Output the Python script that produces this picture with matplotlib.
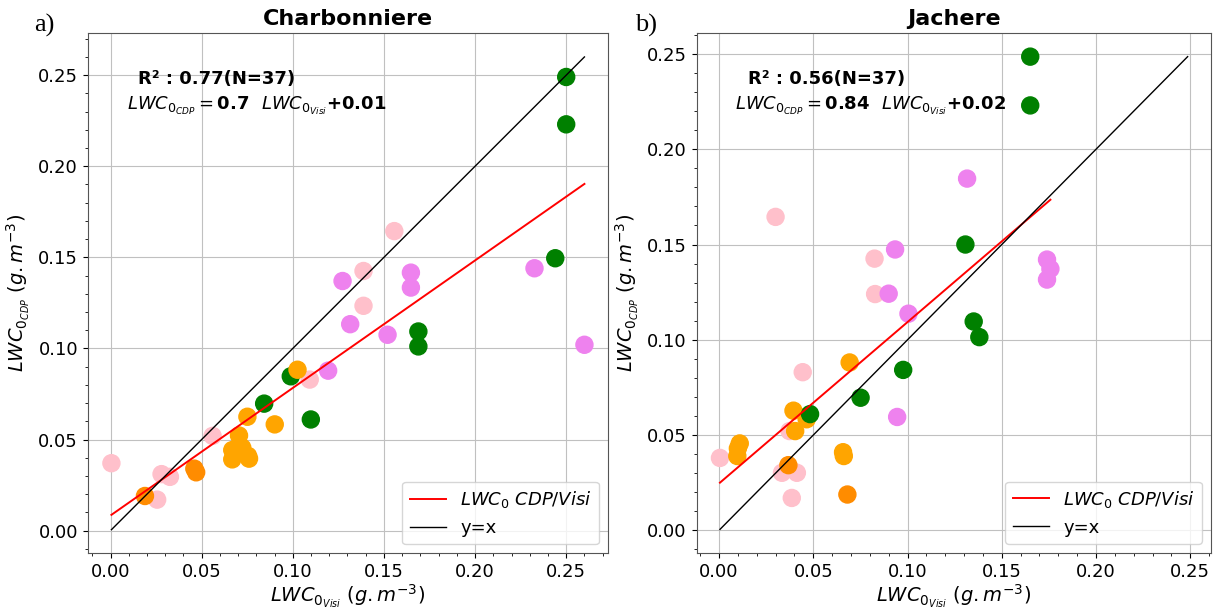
import numpy as np
import matplotlib.pyplot as plt

# a) Charbonniere : LWC0 Visi (x) vs LWC0 CDP (y)
charb_x = [0.0005, 0.028, 0.0326, 0.0256, 0.056, 0.1557, 0.1388, 0.1388, 0.1093,
           0.1273, 0.1648, 0.1648, 0.1315, 0.152, 0.2326, 0.260, 0.1194,
           0.0843, 0.0989, 0.1689, 0.1689, 0.244, 0.1099, 0.250, 0.250,
           0.0751, 0.0901, 0.0705, 0.0668, 0.0723, 0.0668, 0.076, 0.0755, 0.1026,
           0.0189, 0.046, 0.047]
charb_y = [0.037, 0.031, 0.0295, 0.017, 0.052, 0.1644, 0.1425, 0.1234, 0.0829,
           0.137, 0.1416, 0.1334, 0.1133, 0.1075, 0.144, 0.102, 0.0878,
           0.0697, 0.0847, 0.1093, 0.1011, 0.1495, 0.061, 0.249, 0.223,
           0.0625, 0.0583, 0.0522, 0.0442, 0.0455, 0.0391, 0.0395, 0.041, 0.0883,
           0.019, 0.034, 0.032]
charb_col = (['pink'] * 9 + ['violet'] * 8 + ['green'] * 8 + ['orange'] * 9
             + ['darkorange'] * 3)
charb_fit = [0.70, 0.0083]   # pente, ordonnee
charb_txt = ['R² : 0.77(N=37)', r'$LWC_{0_{CDP}}=\bf{0.7}$  $LWC_{0_{Visi}}$+0.01']

# b) Jachere
jach_x = [0.0005, 0.0444, 0.0374, 0.0334, 0.0413, 0.0386, 0.0825, 0.0828, 0.030,
          0.011, 0.0097, 0.010, 0.0693, 0.0395, 0.0465, 0.047, 0.0404, 0.0658, 0.0662,
          0.0368, 0.0681,
          0.0483, 0.0751, 0.0977, 0.1307, 0.1351, 0.1381, 0.1651, 0.1651,
          0.0945, 0.1316, 0.0934, 0.090, 0.1005, 0.174, 0.1758, 0.174]
jach_y = [0.038, 0.083, 0.0521, 0.0302, 0.0302, 0.017, 0.1426, 0.124, 0.1645,
          0.0456, 0.039, 0.043, 0.0881, 0.0628, 0.0583, 0.060, 0.0521, 0.041, 0.039,
          0.0342, 0.0188,
          0.061, 0.0696, 0.0842, 0.150, 0.1096, 0.1014, 0.2486, 0.223,
          0.0595, 0.1846, 0.1474, 0.1242, 0.1137, 0.1421, 0.1372, 0.1316]
jach_col = (['pink'] * 9 + ['orange'] * 10 + ['darkorange'] * 2 + ['green'] * 8
            + ['violet'] * 8)
jach_fit = [0.847, 0.0246]
jach_txt = ['R² : 0.56(N=37)', r'$LWC_{0_{CDP}}=\bf{0.84}$  $LWC_{0_{Visi}}$+0.02']

panels = [
    ('a)', 'Charbonniere', charb_x, charb_y, charb_col, charb_fit, charb_txt,
     [0.0717, 0.0929, 0.4251, 0.8525], 0.028, (0.096, 0.075)),
    ('b)', 'Jachere', jach_x, jach_y, jach_col, jach_fit, jach_txt,
     [0.5691, 0.0934, 0.4203, 0.8525], 0.519, (0.099, 0.074)),
]

fig = plt.figure(figsize=(12.24, 6.1), dpi=100)

for lettre, titre, x, y, col, fit, txt, pos, xl, xt in panels:
    ax = fig.add_axes(pos)
    x = np.array(x)
    y = np.array(y)
    ax.scatter(x, y, c=col, s=150, zorder=2)

    # droite de regression et y=x
    xr = np.array([x.min(), x.max()])
    ax.plot(xr, fit[0] * xr + fit[1], color='red', lw=1.4, zorder=3,
            label=r'$LWC_0$ $CDP/Visi$')
    lo = min(x.min(), y.min())
    hi = max(x.max(), y.max())
    ax.plot([lo, hi], [lo, hi], color='black', lw=1.0, zorder=3, label='y=x')

    ax.set_title(titre, fontsize=16, fontweight='bold')
    ax.set_xlabel(r'$LWC_{0_{Visi}}$ $(g.m^{-3})$', fontsize=14, labelpad=1)
    ax.set_ylabel(r'$LWC_{0_{CDP}}$ $(g.m^{-3})$', fontsize=14)
    ax.tick_params(labelsize=13)
    ax.minorticks_on()
    ax.grid(True, which='major', color='#c0c0c0')
    ax.set_axisbelow(True)
    for sp in ax.spines.values():
        sp.set_color('#555555')

    ax.text(xt[0], 0.902, txt[0], transform=ax.transAxes, fontsize=13,
            fontweight='bold', va='baseline')
    ax.text(xt[1], 0.852, txt[1], transform=ax.transAxes, fontsize=13,
            fontweight='bold', va='baseline')
    ax.legend(loc='lower right', fontsize=13)

    fig.text(xl, 0.949, lettre, fontsize=19, family='Liberation Serif', va='baseline')

plt.savefig('out.png', dpi=100)
